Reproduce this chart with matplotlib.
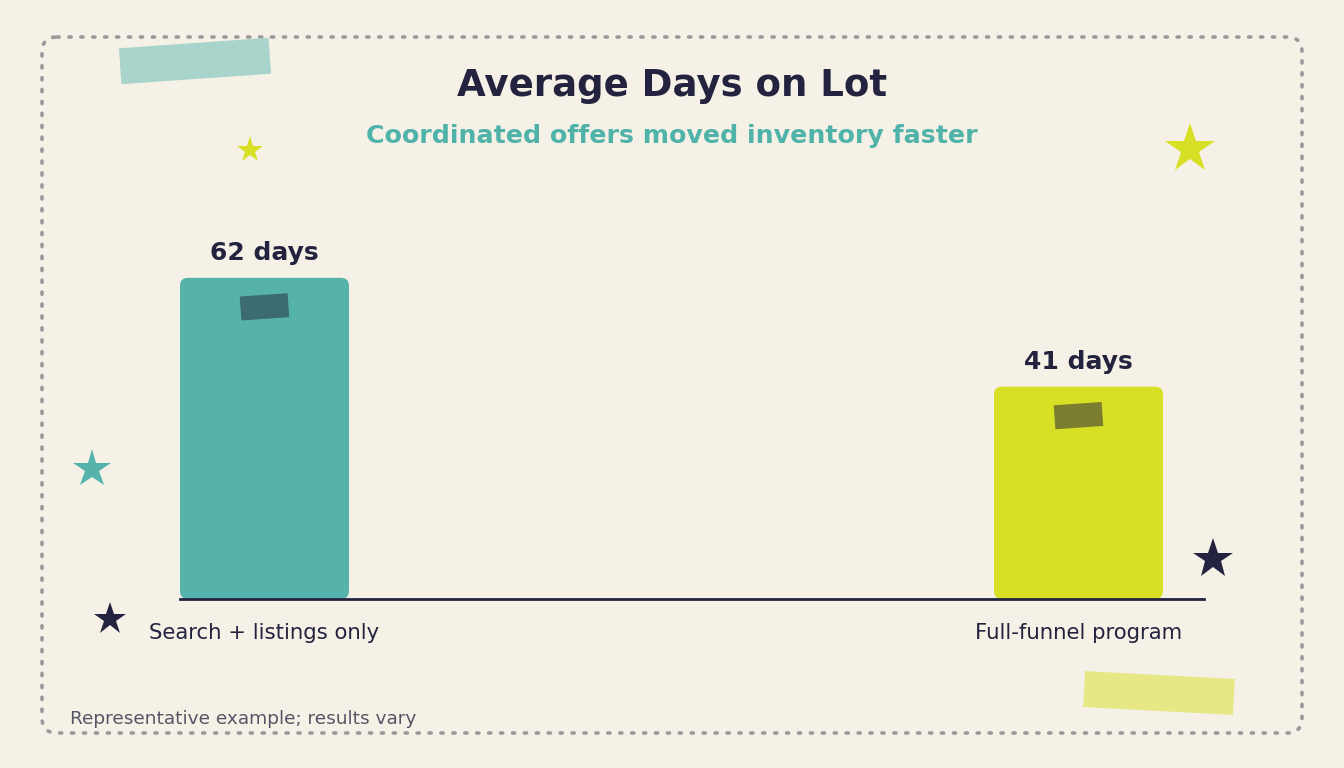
import matplotlib
matplotlib.use("Agg")
import matplotlib.pyplot as plt
from matplotlib.patches import FancyBboxPatch, Rectangle
from matplotlib.transforms import Affine2D, ScaledTranslation

# ---- data ----
categories = ["Search + listings only", "Full-funnel program"]
days = [62, 41]
value_labels = ["62 days", "41 days"]
title = "Average Days on Lot"
subtitle = "Coordinated offers moved inventory faster"
footnote = "Representative example; results vary"

# ---- style ----
BG = "#f5f1e6"
NAVY = "#23233f"
TEAL = "#56b3ab"
LIME = "#d8e026"
bar_colors = [TEAL, LIME]
tape_colors = ["#3c6b71", "#7b7d2f"]
FONT = "DejaVu Sans"

W, H = 1344, 768
fig = plt.figure(figsize=(W / 100, H / 100), dpi=100, facecolor=BG)

# main axes: x 180..1204 px, y baseline 599 px
ymax = 75
px_per_unit = 5.18
top_px = 599 - ymax * px_per_unit
ax = fig.add_axes([180 / W, (H - 599) / H, 1024 / W, (599 - top_px) / H])
ax.set_facecolor("none")
ax.set_xlim(-0.1038, 1.1542)
ax.set_ylim(0, ymax)
for s in ["top", "right", "left"]:
    ax.spines[s].set_visible(False)
ax.spines["bottom"].set_color(NAVY)
ax.spines["bottom"].set_linewidth(2)
ax.spines["bottom"].set_zorder(5)
ax.set_yticks([])
ax.set_xticks(range(len(categories)))
ax.set_xticklabels(categories, fontsize=15.3, color=NAVY, family=FONT)
ax.tick_params(axis="x", length=0, pad=17)

bar_w = 0.2076
x_unit_px = 814
for i, (v, c) in enumerate(zip(days, bar_colors)):
    r = 8
    p = FancyBboxPatch((i - bar_w / 2, 0), bar_w, v,
                       boxstyle=f"round,pad=0,rounding_size={r / x_unit_px}",
                       mutation_aspect=x_unit_px / px_per_unit,
                       facecolor=c, edgecolor="none", zorder=2)
    ax.add_patch(p)
    # tape on bar
    tw, th = 48, 24
    t = Rectangle((-tw / 2, -th / 2), tw, th, facecolor=tape_colors[i],
                  edgecolor="none", zorder=3,
                  transform=Affine2D().rotate_deg(4).translate(0, -29)
                  + ScaledTranslation(i, v, ax.transData))
    ax.add_patch(t)
    ax.annotate(value_labels[i], (i, v), xytext=(0, 9), textcoords="offset points",
                ha="center", va="bottom", fontsize=18, fontweight="bold",
                color=NAVY, family=FONT)

# overlay axes for decorations in pixel coordinates
ov = fig.add_axes([0, 0, 1, 1], zorder=-1)
ov.set_xlim(0, W)
ov.set_ylim(H, 0)
ov.axis("off")
ov.set_facecolor("none")

# dotted rounded border
border = FancyBboxPatch((42, 37), 1260, 696, boxstyle="round,pad=0,rounding_size=15",
                        facecolor="none", edgecolor="#9a999b", linewidth=2.6,
                        linestyle=(0, (0.6, 2.7)), capstyle="round")
ov.add_patch(border)

def tape(cx, cy, w, h, ang, color):
    ov.add_patch(Rectangle((cx - w / 2, cy - h / 2), w, h, facecolor=color, edgecolor="none",
                           transform=Affine2D().rotate_deg_around(cx, cy, ang) + ov.transData))

tape(195, 61, 150, 36, -4, "#a8d4cb")
tape(1159, 693, 150, 36, 3, "#e6e886")

stars = [(250, 150, 28, LIME), (1190, 149, 52, LIME), (92, 469, 40, TEAL),
         (110, 619, 34, NAVY), (1213, 559, 42, NAVY)]
for sx, sy, ss, sc in stars:
    ov.plot([sx], [sy], marker="*", markersize=ss * 0.72, color=sc, markeredgewidth=0)

fig.text(672 / W, 1 - 85 / H, title, ha="center", va="center", fontsize=26.7,
         fontweight="bold", color=NAVY, family=FONT)
fig.text(672 / W, 1 - 136 / H, subtitle, ha="center", va="center", fontsize=18.2,
         fontweight="bold", color="#4fb3a9", family=FONT)
fig.text(70 / W, 1 - 719 / H, footnote, ha="left", va="center", fontsize=13.3,
         color="#555566", family=FONT)

fig.savefig("out.png", dpi=100, facecolor=BG)
